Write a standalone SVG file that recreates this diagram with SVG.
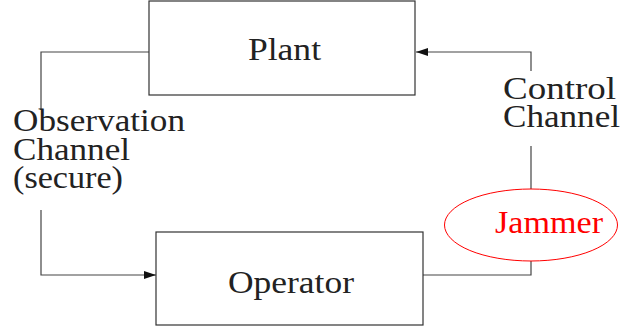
<svg xmlns="http://www.w3.org/2000/svg" width="623" height="330" viewBox="0 0 623 330">
<style>
.box{fill:#fff;stroke:#333;stroke-width:1.2}
.ln{fill:none;stroke:#444;stroke-width:1.2}
.t{font-family:"Liberation Serif","Times New Roman",serif;font-size:31px;fill:#222}
.r{fill:#f00}
</style>
<defs>
<marker id="ah" viewBox="0 0 12 8" refX="12" refY="4" markerWidth="12" markerHeight="8" markerUnits="userSpaceOnUse" orient="auto">
<path d="M0,0 L12,4 L0,8 Z" fill="#111"/>
</marker>
</defs>
<rect width="623" height="330" fill="#fff"/>
<g id="connectors">
<polyline class="ln" points="149,52 41,52 41,110"/>
<polyline class="ln" points="41,210 41,275 156,275" marker-end="url(#ah)"/>
<polyline class="ln" points="423,275 531,275 531,261"/>
<line class="ln" x1="531" y1="189" x2="531" y2="146"/>
<polyline class="ln" points="531,71 531,52 416,52" marker-end="url(#ah)"/>
</g>
<g id="plant">
<rect class="box" x="149" y="1" width="266" height="94"/>
<text class="t" x="248" y="60" textLength="73" lengthAdjust="spacingAndGlyphs">Plant</text>
</g>
<g id="operator">
<rect class="box" x="156" y="232" width="267" height="93"/>
<text class="t" x="228" y="293" textLength="126" lengthAdjust="spacingAndGlyphs">Operator</text>
</g>
<g id="observation-label">
<text class="t" x="13" y="131" textLength="172" lengthAdjust="spacingAndGlyphs">Observation</text>
<text class="t" x="13" y="160" textLength="117" lengthAdjust="spacingAndGlyphs">Channel</text>
<text class="t" x="13" y="188" textLength="110" lengthAdjust="spacingAndGlyphs">(secure)</text>
</g>
<g id="control-label">
<text class="t" x="503" y="99" textLength="113" lengthAdjust="spacingAndGlyphs">Control</text>
<text class="t" x="503" y="127" textLength="117" lengthAdjust="spacingAndGlyphs">Channel</text>
</g>
<g id="jammer">
<ellipse cx="531" cy="225" rx="86.5" ry="36" fill="none" stroke="#f00" stroke-width="1"/>
<text class="t r" x="495" y="233" textLength="108" lengthAdjust="spacingAndGlyphs">Jammer</text>
</g>
</svg>
